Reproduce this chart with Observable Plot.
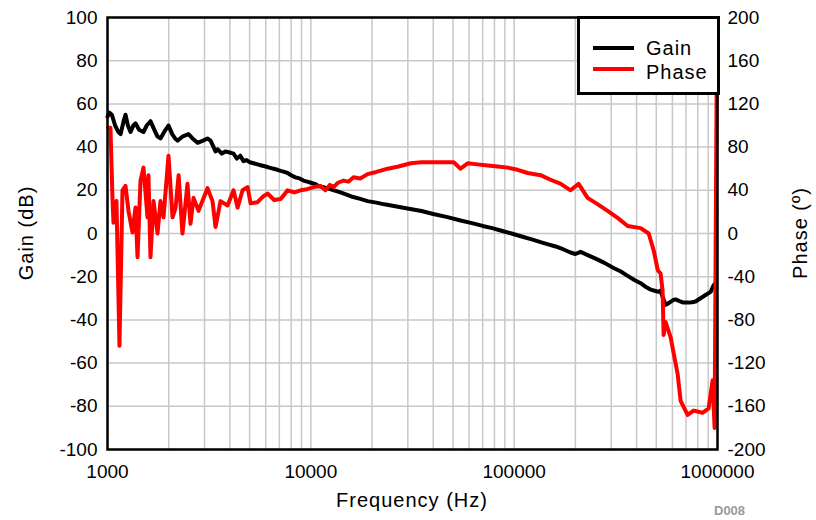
<!DOCTYPE html>
<html><head><meta charset="utf-8">
<script src="https://cdn.jsdelivr.net/npm/d3@7"></script>
<script src="https://cdn.jsdelivr.net/npm/@observablehq/plot@0.6"></script>
<style>
body{margin:0;background:#fff;font-family:"Liberation Sans",Arial,sans-serif;}
#wrap{position:relative;width:816px;height:520px;}
#legend{position:absolute;left:577px;top:16px;width:137px;height:73px;border:3px solid #000;background:#fff;font-size:20px;letter-spacing:1px;}
.ent{position:absolute;left:13px;display:flex;align-items:center;height:24px;}
.sw{width:41px;height:4px;margin-right:12px;}
#code{position:absolute;left:714px;top:503px;font-size:13px;font-weight:bold;color:#9a9a9a;}
</style></head><body>
<div id="wrap"><div id="chart"></div>
<div id="legend">
<div class="ent" style="top:17px"><div class="sw" style="background:#000"></div>Gain</div>
<div class="ent" style="top:41px"><div class="sw" style="background:#ff0000;margin-top:-6px"></div>Phase</div>
</div>
<div id="code">D008</div>
</div>
<script>
const gainFreq = [1000,1020,1050,1090,1130,1160,1200,1226,1260,1298,1340,1373,1430,1503,1560,1627,1700,1760,1822,1900,1995,2080,2150,2210,2350,2503,2620,2772,2950,3100,3212,3300,3400,3476,3650,3800,3990,4167,4330,4500,4667,4830,5000,5230,5470,5720,6000,6250,6554,6850,7100,7400,7681,8000,8400,8800,9207,9600,10000,10450,10910,12000,13000,14000,15000,16000,17500,19010,21000,23000,26000,29900,35000,40000,47000,54500,62000,70000,78000,85750,97000,110000,122000,134900,147000,160000,175000,189400,200000,212100,230000,250000,278000,308300,333000,360000,390000,418700,445000,470000,495000,513200,525000,540000,555500,570000,590000,605000,622200,650000,680000,720900,750000,780000,825700,870000,925000,956800,978800];
const gainDb = [54,56,55,50,47,46,52,55,50,47,50,51,48,47,50,52,48,45,44,47,50,46,44,43,45,46,44,42,43,44,43,40.7,38,39,37,38,37.5,37,34.7,36,33.5,34,33,32.5,32,31.5,31,30.5,30,29.5,29,28.5,28,27,26,25.5,24.5,24,23.5,23,22,21,20,19,18,17,16,15,14.3,13.5,12.6,11.6,10.4,9,7.6,6,4.8,3.5,2.5,1.4,0,-1.5,-2.7,-4,-5,-6,-7.4,-8.8,-9.5,-8.5,-10,-11.5,-13.6,-16,-17.5,-19.5,-21.5,-23,-24.8,-26,-26.6,-27,-26.4,-30,-33,-32.5,-31.5,-30.8,-30.5,-31.3,-32,-32,-31.8,-31.5,-30,-28.6,-27,-24,-23];

const phaseFreq = [1005,1034,1058,1070,1107,1145,1185,1226,1268,1327,1373,1405,1453,1503,1573,1590,1627,1684,1762,1822,1886,1995,2089,2162,2237,2337,2474,2560,2649,2803,3103,3284,3398,3596,3897,4167,4362,4617,4886,5056,5470,5800,6127,6600,7103,7400,7681,8300,8898,9600,10320,11160,11800,12400,12940,13600,14480,15300,16220,17500,19010,21000,23880,27000,31010,35000,40170,45000,50450,54500,59030,66000,74050,83000,92900,104000,116600,134900,150000,169600,189400,207400,229700,258000,288100,325000,361700,418700,458900,485900,508600,525000,537000,543200,555500,587900,636600,658600,712800,762900,844500,904100,946100,967600,990000];
const phaseDeg = [98,98,33,10,30,-104,40,44,21,1,24,-22,49,61,15,54,-22,30,0,30,15,72,15,24,54,0,46,9,33,21,42,30,6,30,26,40,24,40,43,28,29,34,37,31,32,36,40,38,40,41,43,44,40,45,43,47,49,48,52,51,55,57,60,62,65,66,66,66,66,60,65,64,63,62,61,59,56,54,50,46,40,46,33,27,21,14,7,5,0,-16,-34,-37,-53,-94,-82,-96,-130,-155,-168,-164,-166,-162,-136,-180,132];

const xTicks = [1000,10000,100000,1000000];
const gainTicks = [-100,-80,-60,-40,-20,0,20,40,60,80,100];
const phaseTicks = [-200,-160,-120,-80,-40,0,40,80,120,160,200];

const gain = gainFreq.map((f,i)=>({f, v: gainDb[i]}));
const phase = phaseFreq.map((f,i)=>({f, v: phaseDeg[i]}));
const minorX = [];
for (const d of [1000,10000,100000]) for (let k=1;k<10;k++) minorX.push(d*k);
minorX.push(1000000);

const chart = Plot.plot({
  width: 816, height: 520,
  marginTop: 17, marginRight: 99, marginBottom: 71, marginLeft: 107,
  style: {fontFamily: '"Liberation Sans", Arial, sans-serif', fontSize: "19px", color: "#000", background: "#fff"},
  x: {type: "log", domain: [1000, 1000000]},
  y: {domain: [-100, 100]},
  marks: [
    Plot.gridX(minorX, {stroke: "#c8c8c8", strokeOpacity: 1, strokeWidth: 1.5}),
    Plot.gridY(gainTicks, {stroke: "#c8c8c8", strokeOpacity: 1, strokeWidth: 1.5}),
    Plot.axisX(xTicks, {tickSize: 0, tickPadding: 15, tickFormat: d => String(d), fontSize: 19, label: null}),
    Plot.axisY(gainTicks, {anchor: "left", tickSize: 0, tickPadding: 10, tickFormat: d => String(d), fontSize: 19, label: null}),
    Plot.axisY(phaseTicks.map(d => d/2), {anchor: "right", tickSize: 0, tickPadding: 10, tickFormat: d => String(d*2), fontSize: 19, label: null}),
    Plot.line(gain, {x: "f", y: "v", stroke: "#000", strokeWidth: 4, strokeLinejoin: "round"}),
    Plot.line(phase, {x: "f", y: d => d.v/2, stroke: "#ff0000", strokeWidth: 4, strokeLinejoin: "round"}),
    Plot.frame({stroke: "#000", strokeWidth: 2.5})
  ]
});
// axis titles as SVG text
const svg = d3.select(chart);
const tstyle = s => s.attr("font-size", 20).attr("letter-spacing", "1px").attr("text-anchor", "middle").attr("fill", "#000");
svg.append("text").text("Frequency (Hz)").attr("x", 412).attr("y", 507).call(tstyle);
svg.append("text").text("Gain (dB)").attr("transform", "translate(33,233) rotate(-90)").call(tstyle);
svg.append("text").text("Phase (º)").attr("transform", "translate(807,233) rotate(-90)").call(tstyle);
document.getElementById("chart").appendChild(chart);
</script>
</body></html>
